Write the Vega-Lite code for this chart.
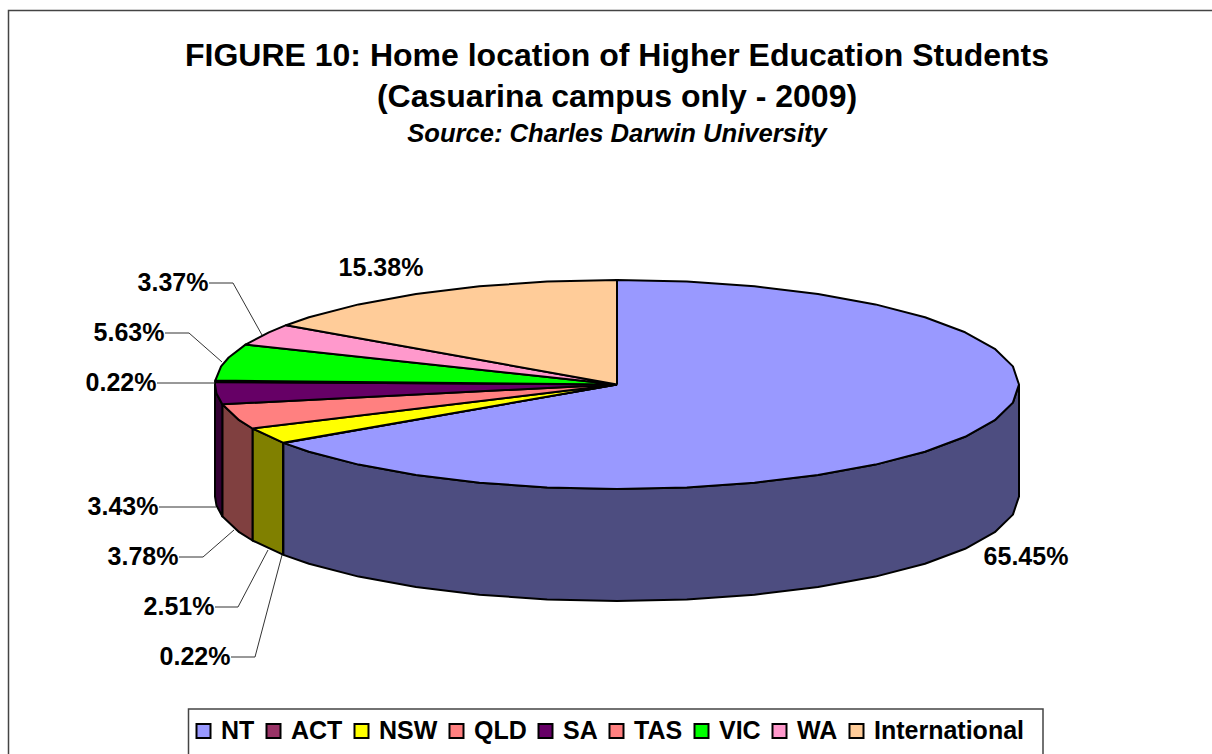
{
"$schema":"https://vega.github.io/schema/vega-lite/v6.json",
"width":1212,"height":754,"padding":0,"autosize":"none","background":"white",
"title":{"text":["FIGURE 10: Home location of Higher Education Students","(Casuarina campus only - 2009)"],"subtitle":"Source: Charles Darwin University","anchor":"middle","frame":"group","offset":-150,"dx":11,"dy":-1,"font":"Liberation Sans","fontSize":32,"fontWeight":"bold","lineHeight":41,"color":"black","subtitleFont":"Liberation Sans","subtitleFontSize":25.6,"subtitleFontWeight":"bold","subtitleFontStyle":"italic","subtitleColor":"black","subtitlePadding":8},
"config":{"view":{"stroke":null}},
"datasets":{
"frame":[
{"part":"frame","i":0,"x":8.5,"y":760},{"part":"frame","i":1,"x":8.5,"y":10.5},{"part":"frame","i":2,"x":1215,"y":10.5},
{"part":"legendbox","i":0,"x":188.5,"y":760},{"part":"legendbox","i":1,"x":188.5,"y":709},{"part":"legendbox","i":2,"x":1043,"y":709},{"part":"legendbox","i":3,"x":1043,"y":760}],
"walls":[
{"slice":"NT","i":0,"x":1019,"y":384.5},{"slice":"NT","i":1,"x":1012.9,"y":402.6},{"slice":"NT","i":2,"x":994.8,"y":420.2},{"slice":"NT","i":3,"x":965.1,"y":436.8},{"slice":"NT","i":4,"x":925,"y":451.7},{"slice":"NT","i":5,"x":875.4,"y":464.6},{"slice":"NT","i":6,"x":818,"y":475},{"slice":"NT","i":7,"x":754.5,"y":482.7},{"slice":"NT","i":8,"x":686.8,"y":487.4},{"slice":"NT","i":9,"x":617,"y":489},{"slice":"NT","i":10,"x":547.2,"y":487.4},{"slice":"NT","i":11,"x":479.5,"y":482.7},{"slice":"NT","i":12,"x":416,"y":475},{"slice":"NT","i":13,"x":358.6,"y":464.6},{"slice":"NT","i":14,"x":309,"y":451.7},{"slice":"NT","i":15,"x":283.4,"y":442.9},
{"slice":"NT","i":16,"x":283.4,"y":554.9},{"slice":"NT","i":17,"x":309,"y":563.7},{"slice":"NT","i":18,"x":358.6,"y":576.6},{"slice":"NT","i":19,"x":416,"y":587},{"slice":"NT","i":20,"x":479.5,"y":594.7},{"slice":"NT","i":21,"x":547.2,"y":599.4},{"slice":"NT","i":22,"x":617,"y":601},{"slice":"NT","i":23,"x":686.8,"y":599.4},{"slice":"NT","i":24,"x":754.5,"y":594.7},{"slice":"NT","i":25,"x":818,"y":587},{"slice":"NT","i":26,"x":875.4,"y":576.6},{"slice":"NT","i":27,"x":925,"y":563.7},{"slice":"NT","i":28,"x":965.1,"y":548.8},{"slice":"NT","i":29,"x":994.8,"y":532.2},{"slice":"NT","i":30,"x":1012.9,"y":514.6},{"slice":"NT","i":31,"x":1019,"y":496.5},{"slice":"NT","i":32,"x":1019,"y":384.5},
{"slice":"NSW","i":0,"x":283,"y":442.7},{"slice":"NSW","i":1,"x":252.5,"y":428.5},{"slice":"NSW","i":2,"x":252.5,"y":540.5},{"slice":"NSW","i":3,"x":283,"y":554.7},{"slice":"NSW","i":4,"x":283,"y":442.7},
{"slice":"QLD","i":0,"x":252.5,"y":428.5},{"slice":"QLD","i":1,"x":239.2,"y":420.2},{"slice":"QLD","i":2,"x":222.3,"y":404.3},{"slice":"QLD","i":3,"x":222.3,"y":516.3},{"slice":"QLD","i":4,"x":239.2,"y":532.2},{"slice":"QLD","i":5,"x":252.5,"y":540.5},{"slice":"QLD","i":6,"x":252.5,"y":428.5},
{"slice":"SA","i":0,"x":222.3,"y":404.3},{"slice":"SA","i":1,"x":216.5,"y":393.6},{"slice":"SA","i":2,"x":215,"y":384.5},{"slice":"SA","i":3,"x":215,"y":496.5},{"slice":"SA","i":4,"x":216.5,"y":505.6},{"slice":"SA","i":5,"x":222.3,"y":516.3},{"slice":"SA","i":6,"x":222.3,"y":404.3}],
"tops":[
{"slice":"NT","i":0,"x":617,"y":384.5},{"slice":"NT","i":1,"x":617,"y":280},{"slice":"NT","i":2,"x":686.8,"y":281.6},{"slice":"NT","i":3,"x":754.5,"y":286.3},{"slice":"NT","i":4,"x":818,"y":294},{"slice":"NT","i":5,"x":875.4,"y":304.4},{"slice":"NT","i":6,"x":925,"y":317.3},{"slice":"NT","i":7,"x":965.1,"y":332.3},{"slice":"NT","i":8,"x":994.8,"y":348.8},{"slice":"NT","i":9,"x":1012.9,"y":366.4},{"slice":"NT","i":10,"x":1019,"y":384.5},{"slice":"NT","i":11,"x":1012.9,"y":402.6},{"slice":"NT","i":12,"x":994.8,"y":420.2},{"slice":"NT","i":13,"x":965.1,"y":436.8},{"slice":"NT","i":14,"x":925,"y":451.7},{"slice":"NT","i":15,"x":875.4,"y":464.6},{"slice":"NT","i":16,"x":818,"y":475},{"slice":"NT","i":17,"x":754.5,"y":482.7},{"slice":"NT","i":18,"x":686.8,"y":487.4},{"slice":"NT","i":19,"x":617,"y":489},{"slice":"NT","i":20,"x":547.2,"y":487.4},{"slice":"NT","i":21,"x":479.5,"y":482.7},{"slice":"NT","i":22,"x":416,"y":475},{"slice":"NT","i":23,"x":358.6,"y":464.6},{"slice":"NT","i":24,"x":309,"y":451.7},{"slice":"NT","i":25,"x":283.4,"y":442.9},{"slice":"NT","i":26,"x":617,"y":384.5},
{"slice":"ACT","i":0,"x":617,"y":384.5},{"slice":"ACT","i":1,"x":283.4,"y":442.9},{"slice":"ACT","i":2,"x":283,"y":442.7},{"slice":"ACT","i":3,"x":617,"y":384.5},
{"slice":"NSW","i":0,"x":617,"y":384.5},{"slice":"NSW","i":1,"x":283,"y":442.7},{"slice":"NSW","i":2,"x":252.5,"y":428.5},{"slice":"NSW","i":3,"x":617,"y":384.5},
{"slice":"QLD","i":0,"x":617,"y":384.5},{"slice":"QLD","i":1,"x":252.5,"y":428.5},{"slice":"QLD","i":2,"x":239.2,"y":420.2},{"slice":"QLD","i":3,"x":222.3,"y":404.3},{"slice":"QLD","i":4,"x":617,"y":384.5},
{"slice":"SA","i":0,"x":617,"y":384.5},{"slice":"SA","i":1,"x":222.3,"y":404.3},{"slice":"SA","i":2,"x":216.5,"y":393.6},{"slice":"SA","i":3,"x":215,"y":384.5},{"slice":"SA","i":4,"x":215.1,"y":382},{"slice":"SA","i":5,"x":617,"y":384.5},
{"slice":"TAS","i":0,"x":617,"y":384.5},{"slice":"TAS","i":1,"x":215.1,"y":382},{"slice":"TAS","i":2,"x":215.3,"y":380.5},{"slice":"TAS","i":3,"x":617,"y":384.5},
{"slice":"VIC","i":0,"x":617,"y":384.5},{"slice":"VIC","i":1,"x":215.3,"y":380.5},{"slice":"VIC","i":2,"x":221.1,"y":366.4},{"slice":"VIC","i":3,"x":228.7,"y":357.5},{"slice":"VIC","i":4,"x":245.5,"y":344.6},{"slice":"VIC","i":5,"x":617,"y":384.5},
{"slice":"WA","i":0,"x":617,"y":384.5},{"slice":"WA","i":1,"x":245.5,"y":344.6},{"slice":"WA","i":2,"x":268.9,"y":332.3},{"slice":"WA","i":3,"x":286.1,"y":325.2},{"slice":"WA","i":4,"x":617,"y":384.5},
{"slice":"International","i":0,"x":617,"y":384.5},{"slice":"International","i":1,"x":286.1,"y":325.2},{"slice":"International","i":2,"x":309,"y":317.3},{"slice":"International","i":3,"x":358.6,"y":304.4},{"slice":"International","i":4,"x":416,"y":294},{"slice":"International","i":5,"x":479.5,"y":286.3},{"slice":"International","i":6,"x":547.2,"y":281.6},{"slice":"International","i":7,"x":617,"y":280},{"slice":"International","i":8,"x":617,"y":384.5}],
"leaders":[
{"slice":"WA","i":0,"x":209,"y":283},{"slice":"WA","i":1,"x":233,"y":283},{"slice":"WA","i":2,"x":262,"y":335},
{"slice":"VIC","i":0,"x":165,"y":333},{"slice":"VIC","i":1,"x":189,"y":333},{"slice":"VIC","i":2,"x":222,"y":362},
{"slice":"TAS","i":0,"x":157,"y":383},{"slice":"TAS","i":1,"x":215,"y":383},
{"slice":"SA","i":0,"x":159,"y":507},{"slice":"SA","i":1,"x":216,"y":507},
{"slice":"QLD","i":0,"x":179,"y":557},{"slice":"QLD","i":1,"x":203,"y":557},{"slice":"QLD","i":2,"x":234,"y":530},
{"slice":"NSW","i":0,"x":215,"y":607},{"slice":"NSW","i":1,"x":238,"y":607},{"slice":"NSW","i":2,"x":268,"y":550},
{"slice":"ACT","i":0,"x":231,"y":657},{"slice":"ACT","i":1,"x":255,"y":657},{"slice":"ACT","i":2,"x":282,"y":555}],
"labels":[
{"slice":"NT","share":0.6545,"x":1026,"y":557},
{"slice":"ACT","share":0.0022,"x":195,"y":657},
{"slice":"NSW","share":0.0251,"x":179,"y":607},
{"slice":"QLD","share":0.0378,"x":143,"y":557},
{"slice":"SA","share":0.0343,"x":123,"y":507},
{"slice":"TAS","share":0.0022,"x":121,"y":383},
{"slice":"VIC","share":0.0563,"x":129,"y":333},
{"slice":"WA","share":0.0337,"x":173,"y":283},
{"slice":"International","share":0.1538,"x":381,"y":268}]
},
"encoding":{
"x":{"field":"x","type":"quantitative","axis":null,"scale":{"domain":[0,1212],"nice":false,"zero":false}},
"y":{"field":"y","type":"quantitative","axis":null,"scale":{"domain":[0,754],"reverse":true,"nice":false,"zero":false}}
},
"layer":[
{"data":{"name":"frame"},"mark":{"type":"line","stroke":"#444444","strokeWidth":1.5,"clip":true},"encoding":{"detail":{"field":"part"},"order":{"field":"i"}}},
{"data":{"name":"walls"},"mark":{"type":"line","stroke":"black","strokeWidth":2,"strokeJoin":"round"},"encoding":{"detail":{"field":"slice"},"order":{"field":"i"},"fill":{"field":"slice","type":"nominal","legend":null,"scale":{"domain":["NT","NSW","QLD","SA"],"range":["#4D4D80","#808000","#804040","#330033"]}}}},
{"data":{"name":"tops"},"mark":{"type":"line","stroke":"black","strokeWidth":2,"strokeJoin":"round"},"encoding":{"detail":{"field":"slice"},"order":{"field":"i"},"fill":{"field":"slice","type":"nominal","title":null,"sort":null,"scale":{"domain":["NT","ACT","NSW","QLD","SA","TAS","VIC","WA","International"],"range":["#9999FF","#993366","#FFFF00","#FF8080","#660066","#FF8080","#00FF00","#FF99CC","#FFCC99"]},"legend":{"orient":"none","legendX":191,"legendY":717,"direction":"horizontal","columns":9,"padding":0,"symbolType":"square","symbolSize":196,"symbolStrokeColor":"black","symbolStrokeWidth":2,"symbolOpacity":1,"labelFont":"Liberation Sans","labelFontSize":25,"labelFontWeight":"bold","labelColor":"black","labelOffset":5,"columnPadding":6,"labelLimit":300,"clipHeight":28}}}},
{"data":{"name":"leaders"},"mark":{"type":"line","stroke":"#333333","strokeWidth":1},"encoding":{"detail":{"field":"slice"},"order":{"field":"i"}}},
{"data":{"name":"labels"},"mark":{"type":"text","font":"Liberation Sans","fontSize":25,"fontWeight":"bold","color":"black","align":"center","baseline":"middle"},"encoding":{"text":{"field":"share","type":"quantitative","format":".2%"}}}
],
"resolve":{"scale":{"fill":"independent"}}
}
